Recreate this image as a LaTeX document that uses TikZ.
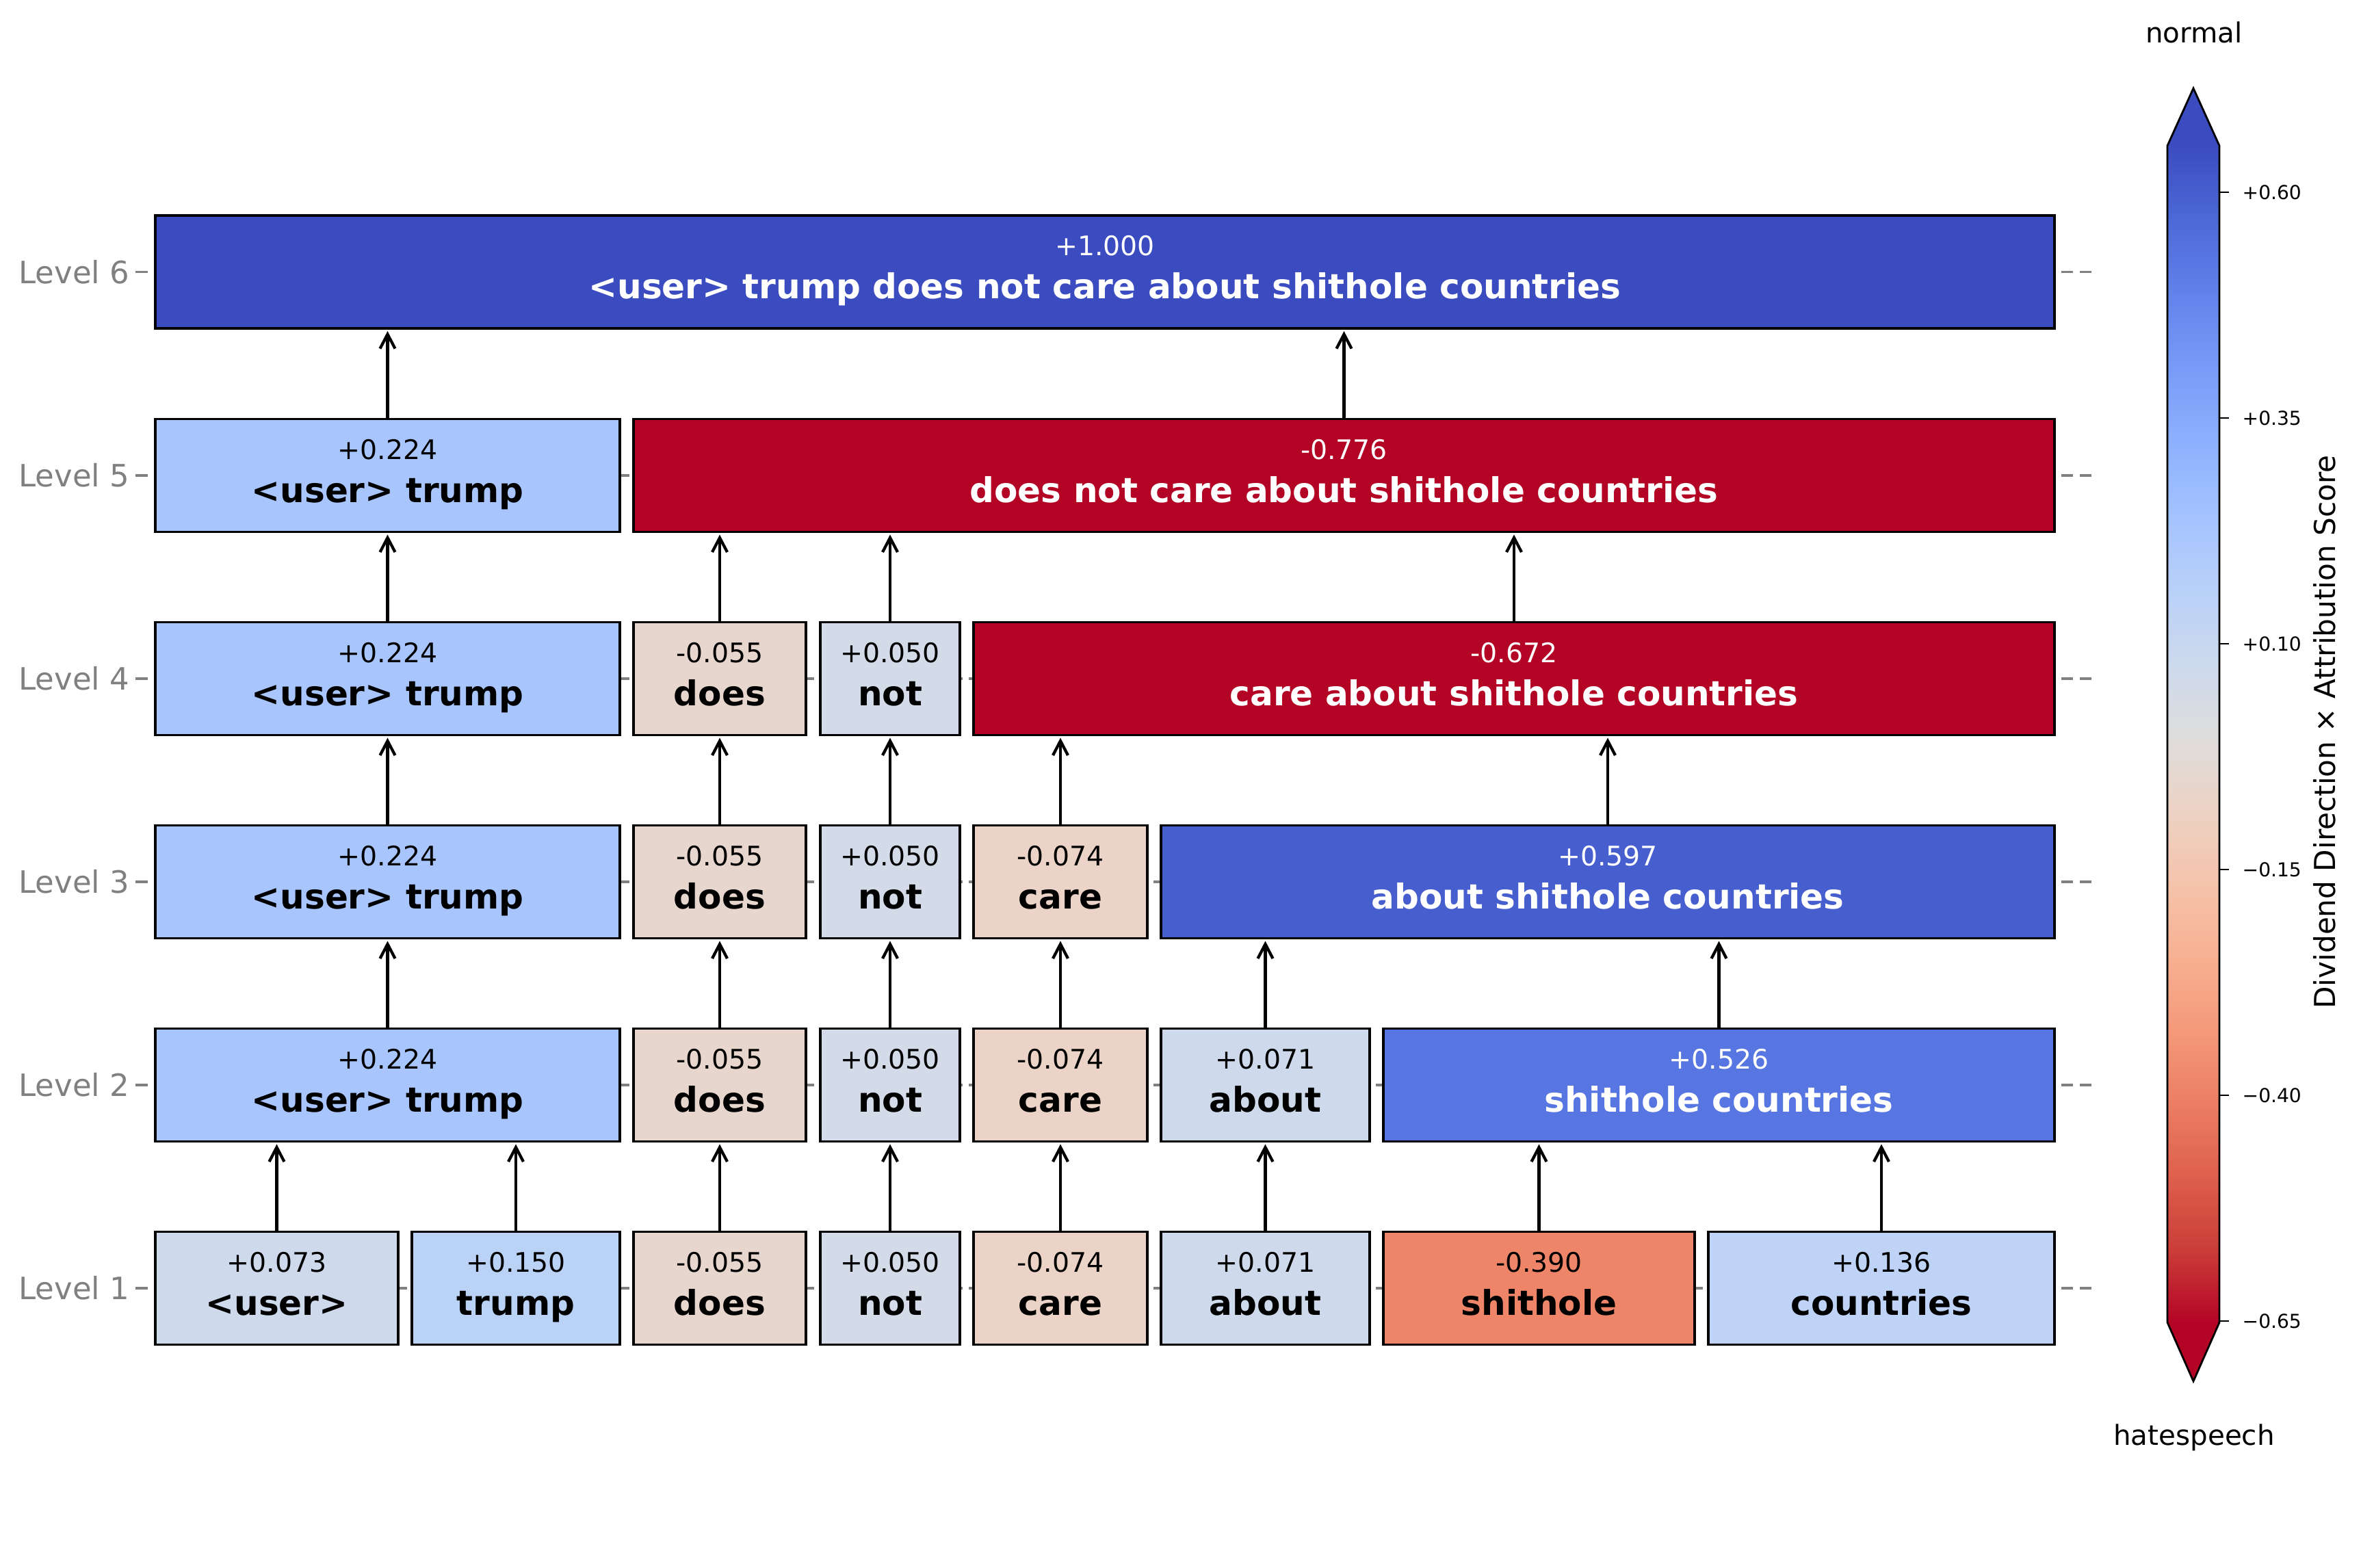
\documentclass[tikz,border=0pt]{standalone}
\usepackage{fontspec}
\setmainfont{DejaVu Sans}
\usetikzlibrary{arrows.meta}

\definecolor{levgray}{RGB}{128,128,128}
\definecolor{cp1000}{RGB}{59,76,192}
\definecolor{cp597}{RGB}{71,94,207}
\definecolor{cp526}{RGB}{88,118,225}
\definecolor{cp224}{RGB}{168,197,254}
\definecolor{cp150}{RGB}{187,210,247}
\definecolor{cp136}{RGB}{190,211,246}
\definecolor{cp073}{RGB}{206,217,236}
\definecolor{cp071}{RGB}{206,218,236}
\definecolor{cp050}{RGB}{211,219,232}
\definecolor{cm055}{RGB}{231,214,205}
\definecolor{cm074}{RGB}{235,212,199}
\definecolor{cm390}{RGB}{238,133,104}
\definecolor{cmneg}{RGB}{180,4,38}

\pgfdeclareverticalshading{coolwarmbar}{100bp}{
  rgb(0bp)=(.706,.016,.149); rgb(25bp)=(.706,.016,.149);
  rgb(28.125bp)=(.796,.243,.220); rgb(31.25bp)=(.871,.376,.302);
  rgb(34.375bp)=(.925,.498,.388); rgb(37.5bp)=(.957,.604,.482);
  rgb(40.625bp)=(.969,.694,.576); rgb(43.75bp)=(.961,.769,.675);
  rgb(46.875bp)=(.925,.827,.773); rgb(50bp)=(.867,.867,.867);
  rgb(53.125bp)=(.800,.851,.933); rgb(56.25bp)=(.722,.816,.976);
  rgb(59.375bp)=(.639,.761,1); rgb(62.5bp)=(.553,.690,.996);
  rgb(65.625bp)=(.467,.604,.969); rgb(68.75bp)=(.384,.510,.918);
  rgb(71.875bp)=(.302,.408,.843); rgb(75bp)=(.231,.298,.753);
  rgb(100bp)=(.231,.298,.753)}

\begin{document}
\begin{tikzpicture}[
    tok/.style={rectangle, draw, line width=1pt, outer sep=0pt, inner sep=0pt, minimum height=1.65cm, text height=0.78cm, text depth=0cm, font=\fontsize{14.25}{16}\selectfont\bfseries},
    val/.style={anchor=base, yshift=-0.585cm, font=\fontsize{11.2}{13}\selectfont},
    valw/.style={val, text=white},
    lev/.style={anchor=east, inner sep=0pt, text=levgray, font=\fontsize{12.8}{15}\selectfont},
    guide/.style={draw=levgray, line width=1pt, dash pattern=on 5.1pt off 2.6pt},
    line/.style={draw, -{Straight Barb[length=0.21cm, width=0.22cm]}, line width=1.2pt, shorten >=0.04cm},
    cbtick/.style={draw, line width=0.8pt},
    ticklab/.style={anchor=west, inner sep=0pt, font=\fontsize{8}{10}\selectfont},
    cblab/.style={anchor=base, inner sep=0pt, font=\fontsize{11.5}{14}\selectfont}
]
    \useasboundingbox (0,0) rectangle (34.51,-22.92);

    \node [lev] (lev6) at (1.90,-3.975) {Level 6};
    \node [lev] (lev5) at (1.90,-6.95) {Level 5};
    \node [lev] (lev4) at (1.90,-9.92) {Level 4};
    \node [lev] (lev3) at (1.90,-12.89) {Level 3};
    \node [lev] (lev2) at (1.90,-15.86) {Level 2};
    \node [lev] (lev1) at (1.90,-18.83) {Level 1};

    \coordinate (gend) at (30.57,0);
    \draw [guide] ([xshift=0.08cm]lev6.east) -- (lev6 -| gend);
    \draw [guide] ([xshift=0.08cm]lev5.east) -- (lev5 -| gend);
    \draw [guide] ([xshift=0.08cm]lev4.east) -- (lev4 -| gend);
    \draw [guide] ([xshift=0.08cm]lev3.east) -- (lev3 -| gend);
    \draw [guide] ([xshift=0.08cm]lev2.east) -- (lev2 -| gend);
    \draw [guide] ([xshift=0.08cm]lev1.east) -- (lev1 -| gend);

    \node [tok, fill=cp073, minimum width=3.55cm, label={[val, name=u1v]north:+0.073}] (u1) at (4.045,-18.83) {<user>};
    \node [tok, fill=cp150, minimum width=3.04cm, label={[val, name=t1v]north:+0.150}] (t1) at (7.54,-18.83) {trump};
    \node [tok, fill=cm055, minimum width=2.52cm, label={[val, name=d1v]north:-0.055}] (d1) at (10.52,-18.83) {does};
    \node [tok, fill=cp050, minimum width=2.04cm, label={[val, name=n1v]north:+0.050}] (n1) at (13.01,-18.83) {not};
    \node [tok, fill=cm074, minimum width=2.54cm, label={[val, name=c1v]north:-0.074}] (c1) at (15.50,-18.83) {care};
    \node [tok, fill=cp071, minimum width=3.05cm, label={[val, name=a1v]north:+0.071}] (a1) at (18.495,-18.83) {about};
    \node [tok, fill=cm390, minimum width=4.55cm, label={[val, name=s1v]north:-0.390}] (s1) at (22.495,-18.83) {shithole};
    \node [tok, fill=cp136, minimum width=5.06cm, label={[val, name=co1v]north:+0.136}] (co1) at (27.50,-18.83) {countries};

    \node [tok, fill=cp224, minimum width=6.79cm, label={[val, name=ut2v]north:+0.224}] (ut2) at (5.665,-15.86) {<user> trump};
    \node [tok, fill=cm055, minimum width=2.52cm, label={[val, name=d2v]north:-0.055}] (d2) at (10.52,-15.86) {does};
    \node [tok, fill=cp050, minimum width=2.04cm, label={[val, name=n2v]north:+0.050}] (n2) at (13.01,-15.86) {not};
    \node [tok, fill=cm074, minimum width=2.54cm, label={[val, name=c2v]north:-0.074}] (c2) at (15.50,-15.86) {care};
    \node [tok, fill=cp071, minimum width=3.05cm, label={[val, name=a2v]north:+0.071}] (a2) at (18.495,-15.86) {about};
    \node [tok, fill=cp526, text=white, minimum width=9.81cm, label={[valw, name=sc2v]north:+0.526}] (sc2) at (25.125,-15.86) {shithole countries};

    \node [tok, fill=cp224, minimum width=6.79cm, label={[val, name=ut3v]north:+0.224}] (ut3) at (5.665,-12.89) {<user> trump};
    \node [tok, fill=cm055, minimum width=2.52cm, label={[val, name=d3v]north:-0.055}] (d3) at (10.52,-12.89) {does};
    \node [tok, fill=cp050, minimum width=2.04cm, label={[val, name=n3v]north:+0.050}] (n3) at (13.01,-12.89) {not};
    \node [tok, fill=cm074, minimum width=2.54cm, label={[val, name=c3v]north:-0.074}] (c3) at (15.50,-12.89) {care};
    \node [tok, fill=cp597, text=white, minimum width=13.06cm, label={[valw, name=asc3v]north:+0.597}] (asc3) at (23.50,-12.89) {about shithole countries};

    \node [tok, fill=cp224, minimum width=6.79cm, label={[val, name=ut4v]north:+0.224}] (ut4) at (5.665,-9.92) {<user> trump};
    \node [tok, fill=cm055, minimum width=2.52cm, label={[val, name=d4v]north:-0.055}] (d4) at (10.52,-9.92) {does};
    \node [tok, fill=cp050, minimum width=2.04cm, label={[val, name=n4v]north:+0.050}] (n4) at (13.01,-9.92) {not};
    \node [tok, fill=cmneg, text=white, minimum width=15.80cm, label={[valw, name=casc4v]north:-0.672}] (casc4) at (22.13,-9.92) {care about shithole countries};

    \node [tok, fill=cp224, minimum width=6.79cm, label={[val, name=ut5v]north:+0.224}] (ut5) at (5.665,-6.95) {<user> trump};
    \node [tok, fill=cmneg, text=white, minimum width=20.77cm, label={[valw, name=dn5v]north:-0.776}] (dn5) at (19.645,-6.95) {does not care about shithole countries};

    \node [tok, fill=cp1000, text=white, minimum width=27.76cm, label={[valw, name=all6v]north:+1.000}] (all6) at (16.15,-3.975) {<user> trump does not care about shithole countries};

    \draw [line] (u1.north) -- (u1.north |- ut2.south);
    \draw [line] (t1.north) -- (t1.north |- ut2.south);
    \draw [line] (d1.north) -- (d2.south);
    \draw [line] (n1.north) -- (n2.south);
    \draw [line] (c1.north) -- (c2.south);
    \draw [line] (a1.north) -- (a2.south);
    \draw [line] (s1.north) -- (s1.north |- sc2.south);
    \draw [line] (co1.north) -- (co1.north |- sc2.south);

    \draw [line] (ut2.north) -- (ut3.south);
    \draw [line] (d2.north) -- (d3.south);
    \draw [line] (n2.north) -- (n3.south);
    \draw [line] (c2.north) -- (c3.south);
    \draw [line] (a2.north) -- (a2.north |- asc3.south);
    \draw [line] (sc2.north) -- (sc2.north |- asc3.south);

    \draw [line] (ut3.north) -- (ut4.south);
    \draw [line] (d3.north) -- (d4.south);
    \draw [line] (n3.north) -- (n4.south);
    \draw [line] (c3.north) -- (c3.north |- casc4.south);
    \draw [line] (asc3.north) -- (asc3.north |- casc4.south);

    \draw [line] (ut4.north) -- (ut5.south);
    \draw [line] (d4.north) -- (d4.north |- dn5.south);
    \draw [line] (n4.north) -- (n4.north |- dn5.south);
    \draw [line] (casc4.north) -- (casc4.north |- dn5.south);

    \draw [line] (ut5.north) -- (ut5.north |- all6.south);
    \draw [line] (dn5.north) -- (dn5.north |- all6.south);

    \shade [shading=coolwarmbar] (31.68,-19.33) rectangle (32.44,-2.13);
    \fill [cp1000] (31.68,-2.13) -- (32.06,-1.29) -- (32.44,-2.13) -- cycle;
    \fill [cmneg] (31.68,-19.33) -- (32.06,-20.19) -- (32.44,-19.33) -- cycle;
    \draw [line width=0.8pt] (31.68,-2.13) -- (32.06,-1.29) -- (32.44,-2.13) -- (32.44,-19.33) -- (32.06,-20.19) -- (31.68,-19.33) -- cycle;

    \foreach \y/\t [count=\k] in {-2.81/+0.60, -6.11/+0.35, -9.41/+0.10, -12.71/−0.15, -16.01/−0.40, -19.31/−0.65} {
        \draw [cbtick] (32.44,\y) -- (32.58,\y);
        \node [ticklab] (cbt\k) at (32.77,\y) {\t};
    }

    \node [cblab] (cbtop) at (32.07,-0.625) {normal};
    \node [cblab] (cbbot) at (32.07,-21.12) {hatespeech};
    \node [cblab, rotate=90, font=\fontsize{12}{14}\selectfont] (cbaxis) at (34.13,-10.70) {Dividend Direction × Attribution Score};
\end{tikzpicture}
\end{document}
